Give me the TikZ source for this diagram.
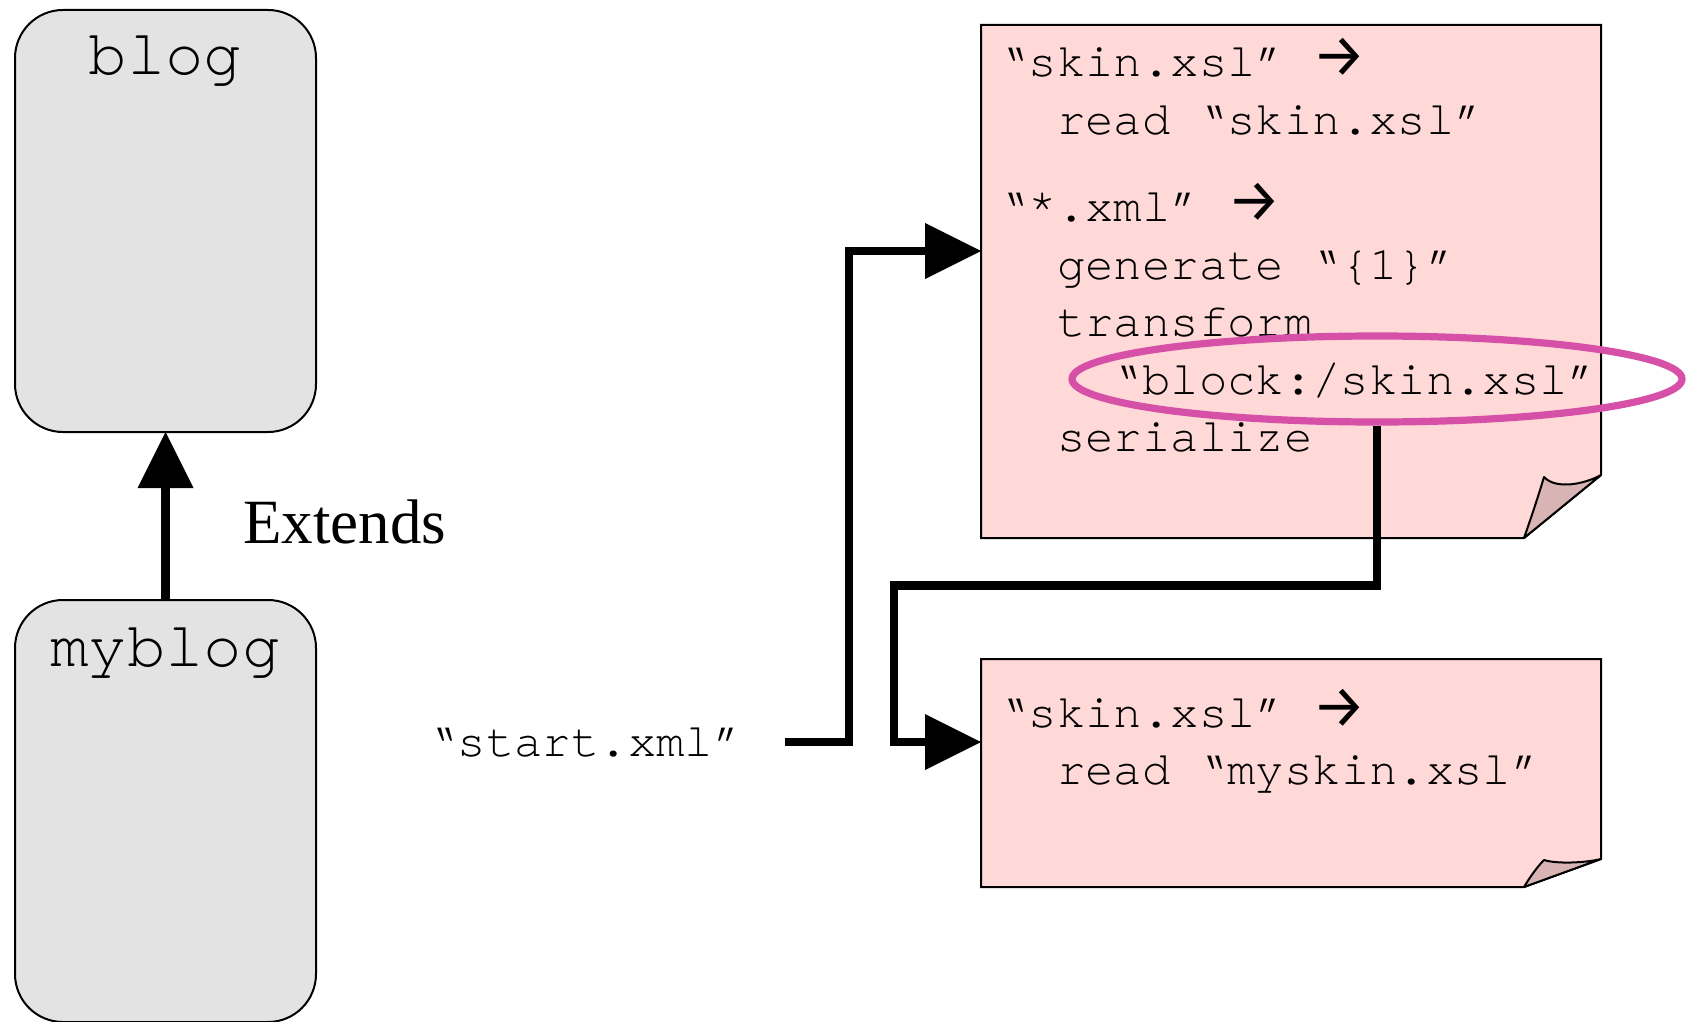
\documentclass[tikz,border=0pt]{standalone}
\usepackage{fontspec}
\setmainfont{Liberation Serif}
\setmonofont{texgyrecursor-regular.otf}
\newfontfamily\arrowfont{Fira Sans}
\usetikzlibrary{arrows.meta,calc,shapes.geometric}

\definecolor{boxgray}{RGB}{227,227,227}
\definecolor{notepink}{RGB}{255,216,216}
\definecolor{flappink}{RGB}{216,180,180}
\definecolor{hlpink}{RGB}{214,80,168}

\tikzset{
  classbox/.style={draw=black, line width=1pt, fill=boxgray, rounded corners=24pt,
    minimum width=150.5pt, minimum height=211pt, inner sep=0pt, outer sep=0pt},
  bigmono/.style={font=\ttfamily\fontsize{32pt}{36pt}\selectfont, inner sep=0pt},
  notemono/.style={font=\ttfamily\fontsize{23.65pt}{28pt}\selectfont, inner sep=0pt, anchor=base west},
  labelserif/.style={font=\rmfamily\fontsize{31.5pt}{36pt}\selectfont, inner sep=0pt, anchor=base west},
  notebox/.style={rectangle, inner sep=0pt, outer sep=0pt, minimum width=310pt},
  notefill/.style={draw=black, line width=1pt, fill=notepink, line join=miter},
  flapfill/.style={draw=black, line width=1pt, fill=flappink, line join=round},
  conn/.style={line width=4.25pt, line join=miter,
    -{Triangle[length=28pt, width=28pt, line width=0pt]}},
  hlring/.style={ellipse, draw=hlpink, line width=3.6pt, minimum width=305pt,
    minimum height=43pt, inner sep=0pt},
}
\newcommand{\rarr}{{\arrowfont\fontsize{30pt}{32pt}\selectfont →}}

\begin{document}
\begin{tikzpicture}[x=0.5pt, y=-0.5pt]
\useasboundingbox (0,0) rectangle (1691,1022);
\fill[white] (0,0) rectangle (1691,1022);

% block hierarchy
\node[classbox] (blog) at (165.5,221) {};
\node[bigmono, anchor=base] (blogname) at (165.5,75) {blog};
\node[classbox] (myblog) at (165.5,811) {};
\node[bigmono, anchor=base] (myblogname) at (165.5,666) {myblog};
\draw[conn] (myblog.north) -- (blog.south);
\node[labelserif] (extends) at (243,543) {Extends};

% sitemap notes
\node[notebox, minimum height=256.5pt] (note1) at (1291,281.5) {};
\draw[notefill] (note1.north west) -- (note1.north east)
  -- ($(note1.south east)+(0,-63)$) -- ($(note1.south east)+(-77,0)$)
  -- (note1.south west) -- cycle;
\draw[flapfill] ($(note1.south east)+(-77,0)$)
  .. controls ($(note1.south east)+(-70,-20)$) and ($(note1.south east)+(-63,-41)$) .. ($(note1.south east)+(-57,-61)$)
  .. controls ($(note1.south east)+(-45,-48)$) and ($(note1.south east)+(-16,-54)$) .. ($(note1.south east)+(0,-63)$)
  -- cycle;

\node[notebox, minimum height=114pt] (note2) at (1291,773) {};
\draw[notefill] (note2.north west) -- (note2.north east)
  -- ($(note2.south east)+(0,-28)$) -- ($(note2.south east)+(-77,0)$)
  -- (note2.south west) -- cycle;
\draw[flapfill] ($(note2.south east)+(-77,0)$)
  .. controls ($(note2.south east)+(-71,-10)$) and ($(note2.south east)+(-64,-20)$) .. ($(note2.south east)+(-57,-27)$)
  .. controls ($(note2.south east)+(-45,-23)$) and ($(note2.south east)+(-16,-24)$) .. ($(note2.south east)+(0,-28)$)
  -- cycle;

% note texts
\node[notemono] (t1) at (1000,77) {“skin.xsl” \rarr};
\node[notemono] (t2) at (1056.8,134.5) {read “skin.xsl”};
\node[notemono] (t3) at (1000,221.7) {“*.xml” \rarr};
\node[notemono] (t4) at (1056.8,279.2) {generate “\{1\}”};
\node[notemono] (t5) at (1056.8,336.7) {transform};
\node[notemono] (t6) at (1113.5,394.2) {“block:/skin.xsl”};
\node[notemono] (t7) at (1056.8,451.7) {serialize};

\node[notemono] (u1) at (1000,727) {“skin.xsl” \rarr};
\node[notemono] (u2) at (1056.8,784.5) {read “myskin.xsl”};

% request entry
\node[notemono] (start) at (429,756) {“start.xml”};
\coordinate (s0) at (785,742);
\draw[conn] (s0) -| (849,251) -- (note1.west |- 0,251);

% highlighted reference and its lookup
\node[hlring] (hl) at (1377,379) {};
\draw[conn] (hl.south) |- (894,585.5) |- (note2.west |- 0,742);
\end{tikzpicture}
\end{document}
